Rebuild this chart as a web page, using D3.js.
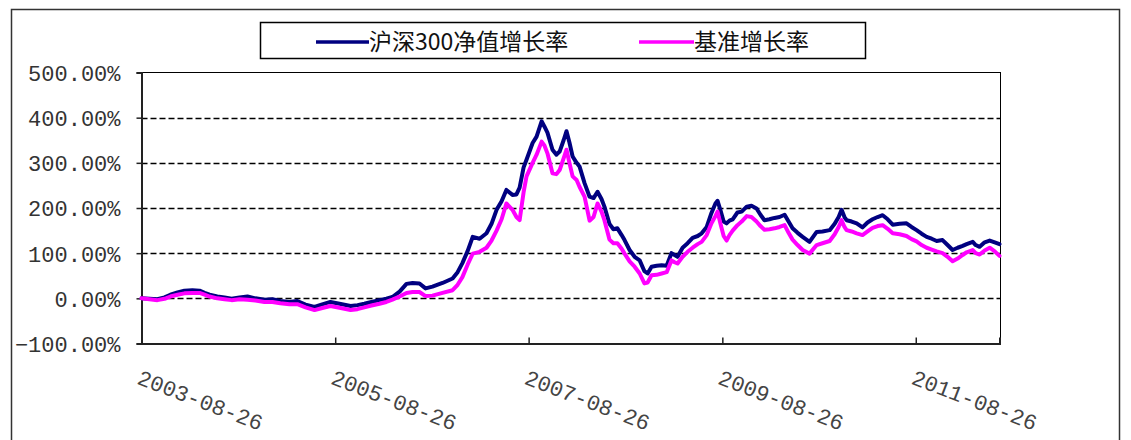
<!DOCTYPE html>
<html><head><meta charset="utf-8">
<script src="https://cdn.jsdelivr.net/npm/d3@7/dist/d3.min.js"></script>
<style>body{margin:0;background:#fff}svg{display:block}</style>
</head><body><svg id="c" width="1131" height="440"></svg>
<script>
// ---- data ----
const dates = [
"2003-08-26","2003-09-25","2003-10-25","2003-11-21","2003-12-13",
"2004-01-09","2004-02-04","2004-03-05","2004-04-01","2004-04-20","2004-05-09","2004-06-07","2004-07-04","2004-07-31","2004-08-30","2004-09-29","2004-10-29","2004-12-02",
"2005-01-01","2005-01-31","2005-03-06","2005-04-05","2005-05-06","2005-06-09","2005-07-05","2005-08-08","2005-09-11","2005-10-23","2005-11-18","2005-12-14",
"2006-01-10","2006-02-09","2006-03-07","2006-03-30","2006-04-26","2006-05-22","2006-06-14","2006-07-10","2006-08-02","2006-08-28","2006-10-05","2006-11-12","2006-12-01","2006-12-19",
"2007-01-08","2007-01-27","2007-02-22","2007-03-20","2007-04-08","2007-04-27","2007-05-16","2007-06-03","2007-06-26","2007-07-11","2007-07-23","2007-08-07","2007-08-18","2007-09-10","2007-09-25","2007-10-14","2007-10-25","2007-11-05","2007-11-24","2007-12-09","2007-12-21",
"2008-01-05","2008-01-16","2008-01-27","2008-02-08","2008-02-23","2008-03-05","2008-03-24","2008-04-12","2008-04-27","2008-05-12","2008-05-27","2008-06-07","2008-06-26","2008-07-11","2008-07-26","2008-08-11","2008-08-22","2008-09-10","2008-09-29","2008-10-18","2008-11-05","2008-11-17","2008-12-02","2008-12-21",
"2009-01-09","2009-01-28","2009-02-15","2009-02-27","2009-03-10","2009-03-29","2009-04-17","2009-05-06","2009-05-25","2009-06-09","2009-06-28","2009-07-16","2009-07-31","2009-08-08","2009-08-19","2009-08-31","2009-09-11","2009-09-22","2009-10-04","2009-10-22","2009-11-07","2009-11-26","2009-12-14",
"2010-01-02","2010-01-17","2010-02-01","2010-02-20","2010-03-11","2010-03-30","2010-04-18","2010-05-03","2010-05-18","2010-06-06","2010-06-25","2010-07-21","2010-08-17","2010-09-08","2010-10-05","2010-10-24","2010-11-08","2010-11-19","2010-11-30","2010-12-08","2010-12-27",
"2011-01-15","2011-02-06","2011-02-25","2011-03-16","2011-04-04","2011-04-23","2011-05-12","2011-05-31","2011-06-26","2011-07-22","2011-08-10","2011-08-29","2011-09-17","2011-10-06","2011-10-25","2011-11-13","2011-12-05","2011-12-24",
"2012-01-12","2012-01-31","2012-02-19","2012-03-05","2012-03-28","2012-04-08","2012-04-23","2012-05-12","2012-05-31","2012-06-19","2012-07-07"
];
const fundGrowth = [
0,-1,-2,2,8,
13,17,18,17,12,8,4,2,-1,2,4,0,-3,
-2,-6,-8,-6,-14,-19,-14,-8,-12,-17,-15,-12,
-8,-4,-1,3,15,32,34,33,22,26,34,44,58,78,
105,136,132,144,165,196,215,240,229,230,245,290,307,344,358,392,380,367,329,318,325,
350,370,345,314,300,292,255,225,222,236,220,203,165,153,155,140,129,107,92,84,60,55,70,72,
73,72,100,96,92,112,122,134,138,144,158,189,210,216,195,170,166,172,175,190,192,203,205,
199,185,173,175,178,180,185,170,155,145,136,125,147,148,151,165,180,196,180,173,170,
166,157,168,175,180,184,175,163,165,166,158,151,143,136,132,127,129,118,
107,112,116,120,125,118,114,124,128,124,120
];
const benchGrowth = [
0,-2,-4,-1,4,
8,11,12,12,8,4,0,-2,-4,-2,-3,-5,-8,
-8,-11,-13,-13,-20,-26,-22,-17,-21,-26,-24,-20,
-16,-12,-8,-3,4,12,14,14,5,6,12,18,30,47,
75,99,103,112,128,150,175,210,196,180,173,235,270,300,318,347,338,321,277,275,284,
310,329,300,270,262,247,225,172,180,210,192,173,130,122,122,110,99,82,70,55,33,35,51,52,
55,58,84,80,77,92,103,112,120,125,140,166,182,192,165,138,128,140,150,162,170,182,180,
170,160,152,153,155,158,162,145,130,118,107,99,118,122,127,142,158,173,158,151,148,
144,140,148,156,160,162,154,144,142,138,131,126,118,112,108,104,100,92,
82,88,96,102,107,100,97,106,112,104,94
];
const seriesNames = ["沪深300净值增长率", "基准增长率"];
const yTickValues = [-100, 0, 100, 200, 300, 400, 500];
const xTickLabels = ["2003-08-26", "2005-08-26", "2007-08-26", "2009-08-26", "2011-08-26"];

// ---- styles ----
const colors = ["#000080", "#ff00ff"];
const W = 1131, H = 440;
const plot = {left: 141.5, right: 1000.5, top: 72.5, bottom: 343.5};

const parse = d3.timeParse("%Y-%m-%d");
const xDates = dates.map(parse);
const svg = d3.select("#c");
svg.append("rect").attr("width", W).attr("height", H).attr("fill", "#fff");

// outer frame
svg.append("rect").attr("x", 11.5).attr("y", 9.5).attr("width", 1108).attr("height", 460)
  .attr("fill", "none").attr("stroke", "#333").attr("stroke-width", 1.5);

const x = d3.scaleTime().domain([xDates[0], xDates[xDates.length - 1]]).range([plot.left, plot.right - 1]);
const y = d3.scaleLinear().domain([-100, 500]).range([plot.bottom, plot.top]);

// plot box
svg.append("rect").attr("x", plot.left).attr("y", plot.top)
  .attr("width", plot.right - plot.left).attr("height", plot.bottom - plot.top)
  .attr("fill", "#fff").attr("stroke", "#000").attr("stroke-width", 1);

// gridlines
svg.append("g").selectAll("line").data(yTickValues.filter(v => v > -100 && v < 500)).join("line")
  .attr("x1", plot.left).attr("x2", plot.right)
  .attr("y1", d => Math.round(y(d)) + 0.5).attr("y2", d => Math.round(y(d)) + 0.5)
  .attr("stroke", "#000").attr("stroke-width", 1.3).attr("stroke-dasharray", "6,3");

// y axis
const yAxis = svg.append("g").attr("transform", `translate(${plot.left},0)`)
  .call(d3.axisLeft(y).tickValues(yTickValues).tickSize(5).tickPadding(16)
    .tickFormat(d => d3.format(".2f")(d) + "%"));
yAxis.select(".domain").attr("stroke", "#222").attr("stroke-width", 2);
yAxis.selectAll(".tick line").attr("stroke", "#222").attr("stroke-width", 1.5);
yAxis.selectAll(".tick text").attr("font-family", "'Liberation Mono', monospace")
  .attr("font-size", 22).attr("fill", "#333").attr("dy", "0.36em");

// x axis
const xTicks = xTickLabels.map(parse);
const xAxis = svg.append("g").attr("transform", `translate(0,${plot.bottom})`)
  .call(d3.axisBottom(x).tickValues(xTicks).tickSize(-6).tickFormat(d3.timeFormat("%Y-%m-%d")));
xAxis.select(".domain").attr("stroke", "#222").attr("stroke-width", 2);
xAxis.selectAll(".tick line").attr("stroke", "#222").attr("stroke-width", 1.5);
xAxis.selectAll(".tick text").attr("font-family", "'Liberation Mono', monospace")
  .attr("font-size", 22).attr("fill", "#444").attr("text-anchor", "start")
  .attr("y", 0).attr("dy", 0)
  .attr("transform", "translate(-6,40) rotate(21)");

// lines
const series = [fundGrowth, benchGrowth];
const line = d3.line().x((d, i) => x(xDates[i])).y(d => y(d));
series.forEach((s, k) => {
  svg.append("path").datum(s).attr("d", line).attr("fill", "none")
    .attr("stroke", colors[k]).attr("stroke-width", 4)
    .attr("stroke-linejoin", "round").attr("stroke-linecap", "round");
});

// legend
const lg = svg.append("g");
lg.append("rect").attr("x", 260.5).attr("y", 22.5).attr("width", 605).attr("height", 36)
  .attr("fill", "#fff").attr("stroke", "#000").attr("stroke-width", 1.5);
const legendItems = [{x1: 316, x2: 369}, {x1: 639, x2: 694}];
seriesNames.forEach((n, k) => {
  lg.append("line").attr("x1", legendItems[k].x1).attr("x2", legendItems[k].x2)
    .attr("y1", 42).attr("y2", 42).attr("stroke", colors[k]).attr("stroke-width", 3.5);
  lg.append("text").attr("x", legendItems[k].x2).attr("y", 50)
    .attr("font-family", "'Noto Sans CJK SC', sans-serif").attr("font-size", 23)
    .attr("fill", "#111").text(n);
});
</script></body></html>
